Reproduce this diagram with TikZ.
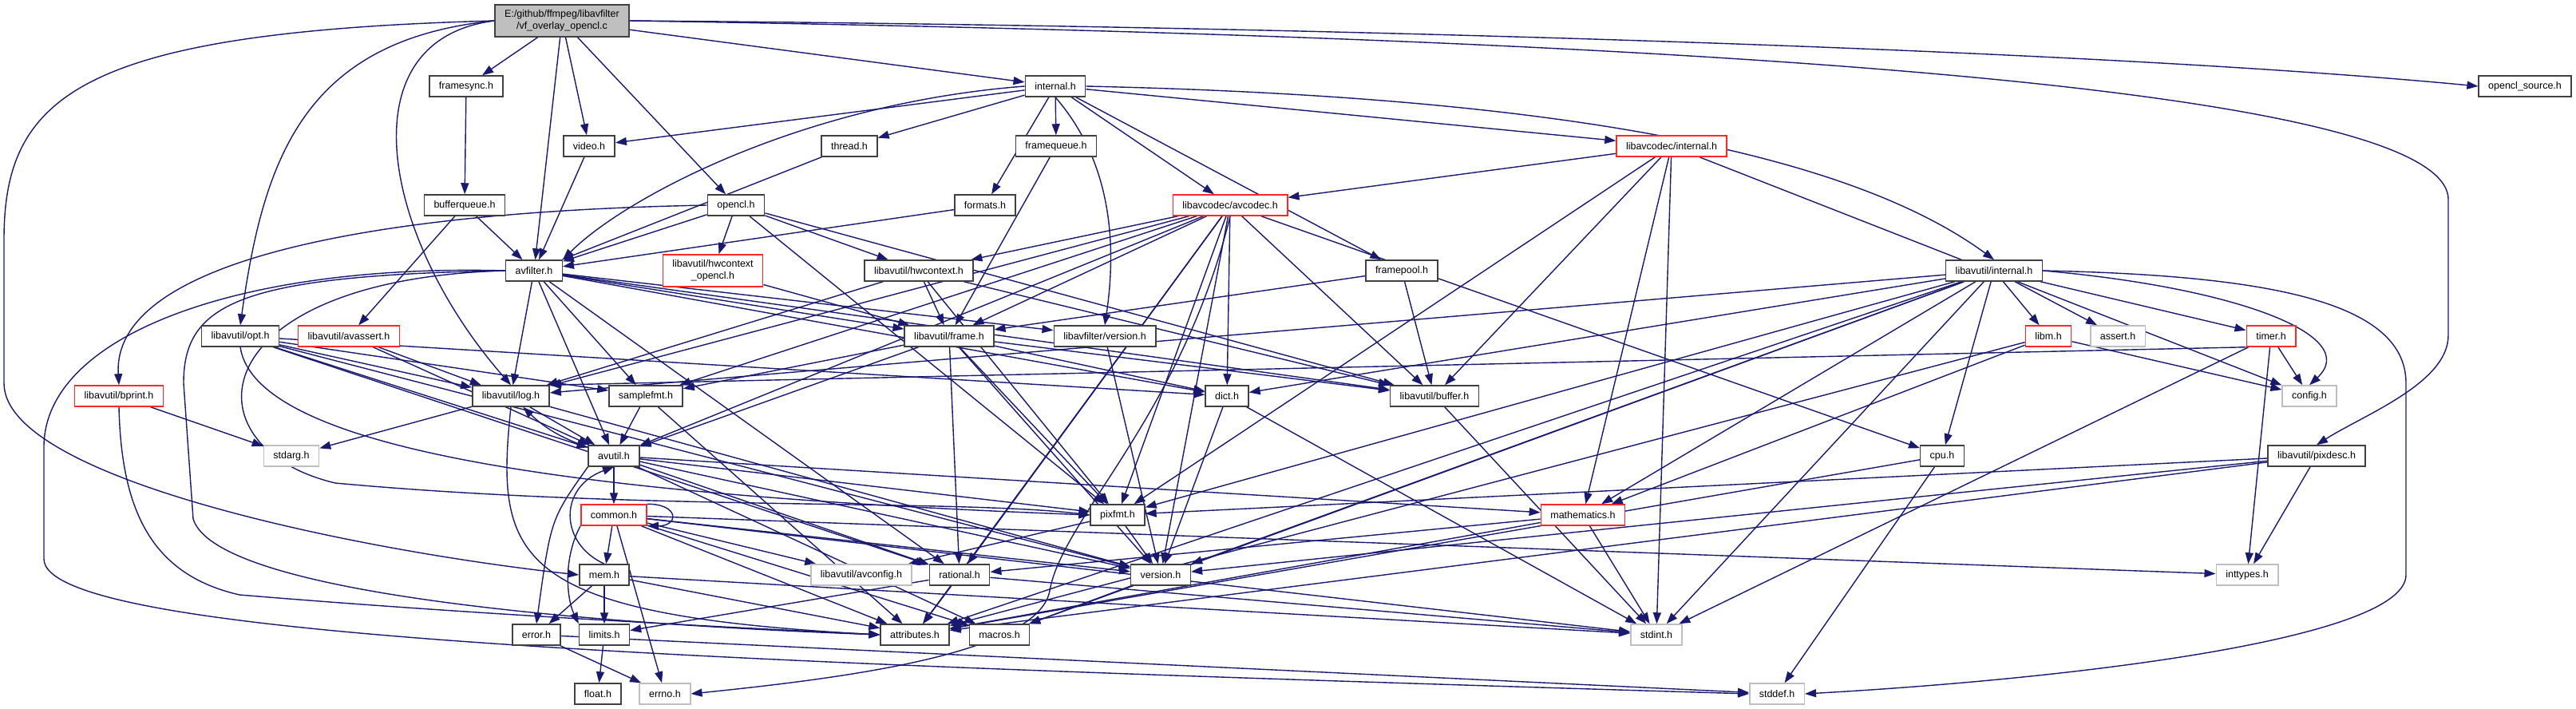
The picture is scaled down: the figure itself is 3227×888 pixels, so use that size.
\documentclass[tikz,border=0pt]{standalone}
\usepackage{fontspec}
\usepackage{xcolor}
\usepackage{tikz}
\usetikzlibrary{arrows.meta, backgrounds}
\newfontfamily\hdrfont{Liberation Sans}
\definecolor{depnavy}{RGB}{25, 25, 112}
\definecolor{hdrred}{RGB}{255, 40, 40}
\definecolor{sysgray}{RGB}{191, 191, 191}

\tikzset{
  hdr/.style={draw=black!75, fill=white, line width=1.5pt, minimum height=26pt,
    inner xsep=12pt, inner ysep=1pt, font=\hdrfont\fontsize{12.5}{15}\selectfont},
  redhdr/.style={hdr, draw=hdrred},
  syshdr/.style={hdr, draw=sysgray},
  srcfile/.style={hdr, fill=sysgray, align=center, minimum height=40pt},
  dep/.style={draw=depnavy, line width=1.4pt, -{Triangle[length=14pt,width=10pt]}}
}

\begin{document}
\begin{tikzpicture}[x=1pt, y=-1pt]
  \useasboundingbox (0,0) rectangle (3227,888);
  % The source file
  \node[srcfile] (root) at (704,26) {E:/github/ffmpeg/libavfilter\\/vf\_overlay\_opencl.c};
  % libavfilter headers
  \node[hdr] (fsync) at (584,108) {framesync.h};
  \node[hdr] (intl) at (1322,108) {internal.h};
  \node[hdr] (clsrc) at (3163,108) {opencl\_source.h};
  \node[hdr] (video) at (738,183) {video.h};
  \node[hdr] (thread) at (1064,183) {thread.h};
  \node[hdr] (fqueue) at (1323,183) {framequeue.h};
  \node[redhdr] (lavcint) at (2094,183) {libavcodec/internal.h};
  \node[hdr] (bqueue) at (582,257) {bufferqueue.h};
  \node[hdr] (opencl) at (922,257) {opencl.h};
  \node[hdr] (formats) at (1234,257) {formats.h};
  \node[redhdr] (avcodec) at (1541,257) {libavcodec/avcodec.h};
  \node[hdr] (avfilter) at (669,339) {avfilter.h};
  \node[redhdr, align=center, minimum height=40pt] (hwcl) at (893,339) {libavutil/hwcontext\\\_opencl.h};
  \node[hdr] (hwctx) at (1151,339) {libavutil/hwcontext.h};
  \node[hdr] (fpool) at (1756,339) {framepool.h};
  \node[hdr] (avuint) at (2498,339) {libavutil/internal.h};
  % libavutil headers
  \node[hdr] (opt) at (301,421) {libavutil/opt.h};
  \node[redhdr] (avassert) at (437,421) {libavutil/avassert.h};
  \node[hdr] (frame) at (1189,421) {libavutil/frame.h};
  \node[hdr] (lavfver) at (1384,421) {libavfilter/version.h};
  \node[redhdr] (libm) at (2566,421) {libm.h};
  \node[syshdr] (assrt) at (2653,421) {assert.h};
  \node[redhdr] (timer) at (2845,421) {timer.h};
  \node[redhdr] (bprint) at (149,496) {libavutil/bprint.h};
  \node[hdr] (logh) at (640,496) {libavutil/log.h};
  \node[hdr] (smpfmt) at (809,496) {samplefmt.h};
  \node[hdr] (dict) at (1537,496) {dict.h};
  \node[hdr] (buffer) at (1797,496) {libavutil/buffer.h};
  \node[syshdr] (config) at (2893,496) {config.h};
  \node[syshdr] (stdarg) at (365,571) {stdarg.h};
  \node[hdr] (avutil) at (769,571) {avutil.h};
  \node[hdr] (cpu) at (2433,571) {cpu.h};
  \node[hdr] (pixdesc) at (2902,571) {libavutil/pixdesc.h};
  \node[redhdr] (common) at (769,645) {common.h};
  \node[hdr] (pixfmt) at (1400,645) {pixfmt.h};
  \node[redhdr] (mathh) at (1983,645) {mathematics.h};
  \node[hdr] (mem) at (757,720) {mem.h};
  \node[syshdr] (avconf) at (1079,720) {libavutil/avconfig.h};
  \node[hdr] (rational) at (1202,720) {rational.h};
  \node[hdr] (version) at (1454,720) {version.h};
  \node[syshdr] (inttypes) at (2815,720) {inttypes.h};
  \node[hdr] (error) at (672,795) {error.h};
  \node[hdr] (limits) at (757,795) {limits.h};
  \node[hdr] (attrib) at (1146,795) {attributes.h};
  \node[hdr] (macros) at (1252,795) {macros.h};
  \node[syshdr] (stdint) at (2075,795) {stdint.h};
  \node[hdr] (floath) at (749,869) {float.h};
  \node[syshdr] (errno) at (833,869) {errno.h};
  \node[syshdr] (stddef) at (2226,869) {stddef.h};

  \begin{scope}[on background layer]
    % includes of the source file
    \foreach \t in {fsync,video,opencl,avfilter,intl}
      \draw[dep] (root) -- (\t);
    \draw[dep] (root.west) .. controls (100,40) and (5,120) .. (5,300) -- (5,480) .. controls (5,600) and (450,690) .. (mem.west);
    \draw[dep] (root.west) .. controls (380,50) and (330,200) .. (opt.north);
    \draw[dep] (root.west) .. controls (430,50) and (480,300) .. (logh.north);
    \draw[dep] (root.east) .. controls (1600,32) and (2600,60) .. (clsrc.west);
    \draw[dep] (root.east) .. controls (2000,45) and (3067,100) .. (3067,250) -- (3067,420) .. controls (3067,480) and (2960,520) .. (pixdesc.north);
    % libavfilter
    \draw[dep] (fsync) -- (bqueue);
    \draw[dep] (bqueue) -- (avassert);
    \foreach \s in {bqueue,video,thread,formats}
      \draw[dep] (\s) -- (avfilter);
    \foreach \t in {video,thread,formats,fqueue,avcodec,fpool,lavcint}
      \draw[dep] (intl) -- (\t);
    \draw[dep] (intl.west) .. controls (1000,130) and (780,250) .. (avfilter.north east);
    \draw[dep] (intl.south) .. controls (1390,200) and (1400,300) .. (lavfver.north);
    \draw[dep] (intl.east) .. controls (1900,120) and (2300,180) .. (avuint.north);
    \draw[dep] (fqueue) -- (frame);
    \foreach \t in {avfilter,hwcl,hwctx,buffer,pixfmt}
      \draw[dep] (opencl) -- (\t);
    \draw[dep] (opencl.west) .. controls (450,265) and (140,330) .. (bprint.north);
    \draw[dep] (fpool) -- (frame);
    \draw[dep] (fpool) -- (buffer);
    \draw[dep] (lavfver) -- (version);
    % avfilter.h
    \foreach \t in {frame,lavfver,buffer,dict,logh,smpfmt,avutil,rational}
      \draw[dep] (avfilter) -- (\t);
    \draw[dep] (avfilter.west) .. controls (250,350) and (230,560) .. (420,605) .. controls (800,640) and (1200,625) .. (pixfmt.west);
    \draw[dep] (avfilter.west) .. controls (300,345) and (230,380) .. (230,480) -- (242,650) .. controls (270,740) and (700,780) .. (attrib.west);
    \draw[dep] (avfilter.west) .. controls (300,330) and (55,420) .. (55,560) -- (55,700) .. controls (55,800) and (900,830) .. (stddef.west);
    % libavcodec
    \foreach \t in {hwctx,frame,smpfmt,avutil,buffer,cpu,dict,logh,pixfmt,rational,attrib,version}
      \draw[dep] (avcodec) -- (\t);
    \draw[dep] (avcodec.south) .. controls (1480,520) and (1330,650) .. (1315,740) .. controls (1300,820) and (1050,850) .. (errno.east);
    \foreach \t in {avcodec,config,buffer,pixfmt,mathh,stdint}
      \draw[dep] (lavcint) -- (\t);
    % libavutil/internal.h
    \foreach \t in {dict,logh,pixfmt,version,cpu,attrib,libm,assrt,timer,mathh,stdint,macros}
      \draw[dep] (avuint) -- (\t);
    \draw[dep] (avuint.east) .. controls (2800,360) and (2960,420) .. (config.north);
    \draw[dep] (avuint.east) .. controls (2850,345) and (3014,380) .. (3014,480) -- (3014,720) .. controls (3014,800) and (2600,850) .. (stddef.east);
    % libavutil
    \draw[dep] (hwcl) -- (frame);
    \foreach \t in {buffer,frame,logh,pixfmt}
      \draw[dep] (hwctx) -- (\t);
    \foreach \t in {avutil,buffer,dict,rational,smpfmt,pixfmt,version}
      \draw[dep] (frame) -- (\t);
    \foreach \t in {rational,avutil,dict,logh,smpfmt,version}
      \draw[dep] (opt) -- (\t);
    \draw[dep] (opt.south) .. controls (320,560) and (700,620) .. (pixfmt.west);
    \draw[dep] (avassert) -- (avutil);
    \draw[dep] (avassert) -- (logh);
    \draw[dep] (bprint) -- (stdarg);
    \draw[dep] (bprint.south) .. controls (152,640) and (190,720) .. (300,745) .. controls (600,770) and (900,785) .. (attrib.west);
    \foreach \t in {stdarg,avutil,version}
      \draw[dep] (logh) -- (\t);
    \draw[dep] (logh.south) .. controls (620,700) and (640,770) .. (attrib.west);
    \draw[dep] (avutil) to[bend left=12] (logh);
    \foreach \t in {avutil,attrib}
      \draw[dep] (smpfmt) -- (\t);
    \foreach \t in {common,rational,version,macros,mathh,pixfmt}
      \draw[dep] (avutil) -- (\t);
    \draw[dep] (avutil.south west) .. controls (690,650) .. (error.north);
    \foreach \t in {errno,inttypes,stdint,attrib,macros,version,mem,avconf}
      \draw[dep] (common) -- (\t);
    \draw[dep] (common.south west) .. controls (705,700) and (710,750) .. (limits.north west);
    \draw[dep] (common.north east) .. controls +(40,0) and +(40,0) .. (common.south east);
    \foreach \t in {error,limits,attrib,stdint}
      \draw[dep] (mem) -- (\t);
    \draw[dep] (mem.north) .. controls (700,680) and (700,610) .. (avutil.south);
    \draw[dep] (error) -- (errno);
    \draw[dep] (error) -- (stddef);
    \draw[dep] (limits) -- (floath);
    \foreach \t in {avconf,version}
      \draw[dep] (pixfmt) -- (\t);
    \foreach \t in {stdint,limits,attrib}
      \draw[dep] (rational) -- (\t);
    \draw[dep] (version) -- (macros);
    \foreach \t in {stdint,attrib,rational}
      \draw[dep] (mathh) -- (\t);
    \draw[dep] (dict) -- (stdint);
    \draw[dep] (dict) -- (version);
    \draw[dep] (buffer) -- (stdint);
    \draw[dep] (cpu) -- (attrib);
    \draw[dep] (cpu) -- (stddef);
    \foreach \t in {config,mathh,attrib}
      \draw[dep] (libm) -- (\t);
    \foreach \t in {config,inttypes,stdint}
      \draw[dep] (timer) -- (\t);
    \draw[dep] (timer.south west) -- (logh.north east);
    \foreach \t in {inttypes,pixfmt,version,attrib}
      \draw[dep] (pixdesc) -- (\t);
  \end{scope}
\end{tikzpicture}
\end{document}
